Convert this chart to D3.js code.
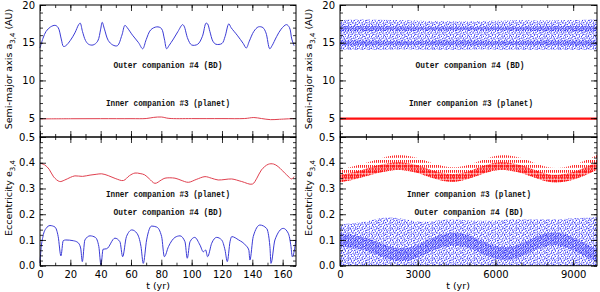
<!DOCTYPE html>
<html>
<head>
<meta charset="utf-8">
<script src="https://cdn.jsdelivr.net/npm/d3@7"></script>
<style>
  body { margin: 0; background: #fff; }
  svg { display: block; }
  .tick text { font-family: "DejaVu Sans", sans-serif; font-size: 10px; fill: #000; }
  .domain { display: none; }
  .tick line { stroke: #000; stroke-width: 0.8; }
  .note { font-family: "Liberation Mono", monospace; font-size: 9.5px; font-weight: bold; fill: #111; }
  .alab { font-family: "DejaVu Sans", sans-serif; font-size: 9.5px; fill: #000; }
</style>
</head>
<body>
<svg id="chart" width="600" height="292"></svg>
<script>
// ---- left panels: short integration (lines) ----
const tShortA = [0, 2, 4, 7, 10, 12, 14, 15.5, 17, 20, 23, 25.5, 26.5, 28, 30, 32, 35, 38, 40, 41, 42.5, 45, 48, 51, 54, 56, 57.5, 61, 65, 67.7, 70, 73, 77, 80, 82, 83.5, 85, 88, 91, 94, 95, 97.5, 100, 104, 107, 109.5, 110.5, 112, 114, 116, 120, 122, 124.5, 126, 130, 134, 136, 138, 141, 144, 147, 149, 151.5, 153, 156, 159, 162.5, 164.5, 166, 167.5];
const aOuterShort = [14.3, 15.6, 16.5, 17.1, 17.3, 17.0, 15.5, 14.5, 14.6, 15.3, 16.3, 17.4, 17.6, 16.5, 15.3, 14.8, 14.7, 15.2, 16.8, 17.7, 16.8, 15.3, 14.7, 14.6, 16.0, 17.3, 17.0, 16.0, 15.0, 14.2, 15.4, 16.7, 17.1, 16.9, 15.5, 14.2, 14.6, 15.5, 16.5, 17.4, 17.2, 15.5, 14.7, 14.8, 15.8, 17.6, 17.5, 16.5, 15.2, 14.8, 14.9, 15.8, 17.5, 17.0, 16.0, 14.9, 14.3, 15.2, 16.5, 17.1, 17.0, 16.3, 14.2, 14.6, 15.8, 16.8, 17.4, 17.0, 15.5, 14.6];

const tShortAin = [0, 20, 40, 60, 70, 75, 80, 85, 100, 120, 135, 141, 146, 152, 158, 167.5];
const aInnerShort = [4.9, 4.92, 4.93, 4.93, 4.95, 5.1, 5.15, 4.97, 4.94, 4.94, 4.95, 5.08, 4.95, 4.8, 4.85, 4.95];

const tShortEin = [0, 3, 6, 9, 13, 16, 20, 23, 28, 33, 37, 40.7, 45, 50, 55, 59, 62.6, 66, 69, 72, 75.8, 80, 82.4, 89, 93, 97.8, 103, 108.8, 113, 117.5, 122, 126.4, 133, 140, 143, 146, 150.5, 154, 157, 162.6, 166, 167.5];
const eInnerShort = [0.398, 0.392, 0.375, 0.345, 0.327, 0.332, 0.343, 0.349, 0.347, 0.352, 0.355, 0.357, 0.35, 0.338, 0.331, 0.35, 0.36, 0.358, 0.353, 0.338, 0.32, 0.333, 0.34, 0.34, 0.332, 0.324, 0.335, 0.346, 0.34, 0.333, 0.335, 0.337, 0.327, 0.317, 0.34, 0.372, 0.394, 0.395, 0.385, 0.353, 0.337, 0.346];

const tShortEout = [0, 0.6, 2, 4, 6.6, 9.9, 12, 13.8, 15.3, 17, 22, 25, 26.8, 27.9, 29.6, 33, 36.5, 38.8, 40.2, 41.6, 44, 49.4, 52.7, 54.5, 57, 60.6, 63.9, 66.6, 68.1, 70.3, 73.6, 77, 80.2, 82, 84.7, 89, 92.3, 95.6, 97.1, 98.9, 102, 105.5, 107.7, 109.2, 110.5, 113.2, 116.5, 119.8, 122, 123.5, 125.3, 126.4, 131, 135.5, 137.7, 138.4, 140.6, 145, 149.4, 151.6, 152.3, 154.9, 160.4, 163.7, 165.5, 166.3, 168.1, 168.7];
const eOuterShort = [0.01, 0.06, 0.115, 0.145, 0.156, 0.15, 0.113, 0.038, 0.097, 0.1, 0.097, 0.09, 0.069, 0.016, 0.1, 0.116, 0.11, 0.074, 0.003, 0.064, 0.066, 0.107, 0.093, 0.035, 0.113, 0.139, 0.126, 0.074, 0.009, 0.1, 0.154, 0.15, 0.113, 0.035, 0.074, 0.11, 0.116, 0.093, 0.029, 0.093, 0.11, 0.08, 0.054, 0.061, 0.035, 0.087, 0.11, 0.1, 0.061, 0.016, 0.093, 0.113, 0.1, 0.08, 0.061, 0.022, 0.113, 0.158, 0.145, 0.074, 0.009, 0.1, 0.145, 0.126, 0.074, 0.035, 0.074, 0.1];

// ---- right panels: long integration (dense point clouds, read as envelopes) ----
const tLong = [0, 1000, 2000, 3000, 4000, 5000, 6000, 7000, 8000, 9000, 9920];
const aOuterLow = [14.1, 14.0, 14.1, 14.1, 14.0, 14.1, 14.1, 14.0, 14.1, 14.0, 14.1];
const aOuterHigh = [18.0, 18.1, 18.0, 17.9, 17.9, 17.8, 17.9, 18.0, 17.9, 18.0, 18.1];
const aOuterBand1Low = [14.6, 14.6, 14.6, 14.7, 14.6, 14.6, 14.6, 14.7, 14.6, 14.6, 14.6];
const aOuterBand1High = [15.3, 15.3, 15.2, 15.2, 15.3, 15.3, 15.2, 15.2, 15.3, 15.3, 15.3];
const aOuterBand2Low = [16.5, 16.5, 16.6, 16.6, 16.6, 16.7, 16.6, 16.6, 16.5, 16.5, 16.5];
const aOuterBand2High = [17.2, 17.2, 17.2, 17.1, 17.1, 17.1, 17.1, 17.1, 17.2, 17.2, 17.2];
const aInnerLow = [4.78, 4.78, 4.78, 4.78, 4.78, 4.78, 4.78, 4.78, 4.78, 4.78, 4.78];
const aInnerHigh = [5.1, 5.1, 5.1, 5.1, 5.1, 5.1, 5.1, 5.1, 5.1, 5.1, 5.1];

const tLongE = [0, 500, 1000, 1500, 2000, 2500, 3000, 3500, 4000, 4500, 5000, 5500, 6000, 6500, 7000, 7500, 8000, 8500, 9000, 9500, 9920];
const eInnerCoreLow = [0.325, 0.333, 0.347, 0.362, 0.372, 0.372, 0.362, 0.342, 0.327, 0.325, 0.337, 0.357, 0.372, 0.372, 0.362, 0.342, 0.324, 0.322, 0.332, 0.352, 0.372];
const eInnerCoreHigh = [0.354, 0.362, 0.377, 0.392, 0.402, 0.402, 0.392, 0.372, 0.357, 0.355, 0.367, 0.387, 0.402, 0.402, 0.392, 0.372, 0.354, 0.352, 0.362, 0.382, 0.402];
const eInnerTop = [0.375, 0.385, 0.4, 0.415, 0.43, 0.43, 0.42, 0.4, 0.385, 0.38, 0.392, 0.41, 0.43, 0.43, 0.42, 0.4, 0.38, 0.378, 0.39, 0.41, 0.43];

const eOuterTop = [0.16, 0.165, 0.17, 0.185, 0.19, 0.18, 0.17, 0.17, 0.18, 0.18, 0.175, 0.175, 0.175, 0.18, 0.18, 0.18, 0.18, 0.18, 0.185, 0.185, 0.19];
const eOuterDenseLow = [0.075, 0.07, 0.06, 0.04, 0.02, 0.015, 0.03, 0.055, 0.075, 0.08, 0.07, 0.045, 0.025, 0.02, 0.035, 0.06, 0.08, 0.08, 0.06, 0.035, 0.015];
const eOuterDenseHigh = [0.125, 0.12, 0.11, 0.09, 0.07, 0.065, 0.08, 0.105, 0.125, 0.13, 0.12, 0.095, 0.075, 0.07, 0.085, 0.11, 0.13, 0.13, 0.11, 0.085, 0.065];

const xTicksShort = [0, 20, 40, 60, 80, 100, 120, 140, 160];
const xTicksLong = [0, 3000, 6000, 9000];
const aTicks = [5, 10, 15, 20];
const eTicks = [0, 0.1, 0.2, 0.3, 0.4, 0.5];

const blue = '#3b3bd6';
const red = '#e0404f';
const blueDot = '#2222f5';
const redDot = '#ff1010';

const svg = d3.select('#chart');
const defs = svg.append('defs');

// dot textures for the point clouds
function dotPattern(id, w, h, pts, color) {
    const p = defs.append('pattern').attr('id', id)
        .attr('patternUnits', 'userSpaceOnUse').attr('width', w).attr('height', h);
    pts.forEach(d => p.append('rect').attr('x', d[0]).attr('y', d[1])
        .attr('width', d[2] || 0.9).attr('height', d[3] || 0.9).attr('fill', color));
}
dotPattern('sparseBlue', 6, 5, [[0, 0], [3, 0.8], [1.5, 2.2], [4.5, 3], [2.5, 4], [5.2, 1.6], [0.6, 3.6]], blueDot);
dotPattern('denseBlue', 2.5, 2.5, [[0, 0], [1.3, 0.8], [0.6, 1.7]], blueDot);
dotPattern('lightBlue', 7, 6, [[0, 0], [3.5, 1.8], [1.8, 4], [5.2, 4.5], [1, 2.3], [5, 0.5]], blueDot);
dotPattern('redSpikes', 2, 5, [[0, 0, 0.9, 2.8]], redDot);
dotPattern('redCore', 1.5, 3, [[0, 0, 1, 2.6]], redDot);

const panels = {
    left: { x0: 40, x1: 296, dom: [0, 168.8], major: xTicksShort, minor: d3.range(0, 169, 10) },
    right: { x0: 340, x1: 597, dom: [0, 9920], major: xTicksLong, minor: d3.range(0, 9921, 1000) }
};
const rows = {
    top: { y0: 5, y1: 137, dom: [2.5, 20], major: aTicks, minor: d3.range(3, 20.1, 1) },
    bottom: { y0: 137, y1: 265.7, dom: [0, 0.5], major: eTicks, minor: d3.range(0, 0.501, 0.02) }
};

const frames = svg.append('g');   // collected so they can be raised over fills

function frame(p, r, showX) {
    const x = d3.scaleLinear().domain(p.dom).range([p.x0, p.x1]);
    const y = d3.scaleLinear().domain(r.dom).range([r.y1, r.y0]);
    const g = frames.append('g');
    const fmt = r.dom[1] < 1 ? d3.format('.1f') : d3.format('d');
    // minor ticks
    g.append('g').attr('transform', `translate(0,${r.y1})`)
        .call(d3.axisBottom(x).tickValues(p.minor).tickSize(-3).tickFormat(''));
    g.append('g').attr('transform', `translate(0,${r.y0})`)
        .call(d3.axisTop(x).tickValues(p.minor).tickSize(-3).tickFormat(''));
    g.append('g').attr('transform', `translate(${p.x0},0)`)
        .call(d3.axisLeft(y).tickValues(r.minor).tickSize(-3).tickFormat(''));
    g.append('g').attr('transform', `translate(${p.x1},0)`)
        .call(d3.axisRight(y).tickValues(r.minor).tickSize(-3).tickFormat(''));
    // major ticks
    g.append('g').attr('transform', `translate(0,${r.y1})`)
        .call(d3.axisBottom(x).tickValues(p.major).tickSize(-6).tickPadding(5)
            .tickFormat(showX ? d3.format('d') : ''));
    g.append('g').attr('transform', `translate(0,${r.y0})`)
        .call(d3.axisTop(x).tickValues(p.major).tickSize(-6).tickFormat(''));
    g.append('g').attr('transform', `translate(${p.x0},0)`)
        .call(d3.axisLeft(y).tickValues(r.major).tickSize(-6).tickPadding(5).tickFormat(fmt));
    g.append('g').attr('transform', `translate(${p.x1},0)`)
        .call(d3.axisRight(y).tickValues(r.major).tickSize(-6).tickFormat(''));
    g.append('rect').attr('x', p.x0).attr('y', r.y0)
        .attr('width', p.x1 - p.x0).attr('height', r.y1 - r.y0)
        .attr('fill', 'none').attr('stroke', '#000').attr('stroke-width', 1);
    return { x, y };
}

function line(s, xs, ys, color, curve) {
    svg.append('path')
        .datum(xs.map((t, i) => [t, ys[i]]))
        .attr('fill', 'none').attr('stroke', color).attr('stroke-width', 1)
        .attr('d', d3.line().x(d => s.x(d[0])).y(d => s.y(d[1]))
            .curve(curve || d3.curveCatmullRom.alpha(0.5)));
}

function band(s, xs, lo, hi, fill) {
    svg.append('path')
        .datum(xs.map((t, i) => [t, lo[i], hi[i]]))
        .attr('fill', fill)
        .attr('d', d3.area().x(d => s.x(d[0])).y0(d => s.y(d[1])).y1(d => s.y(d[2]))
            .curve(d3.curveBasis));
}

// top-left
const sTL = frame(panels.left, rows.top, false);
line(sTL, tShortA, aOuterShort, blue);
line(sTL, tShortAin, aInnerShort, red);

// bottom-left
const sBL = frame(panels.left, rows.bottom, true);
line(sBL, tShortEin, eInnerShort, red);
line(sBL, tShortEout, eOuterShort, blue, d3.curveMonotoneX);

// top-right
const sTR = frame(panels.right, rows.top, false);
band(sTR, tLong, aOuterLow, aOuterHigh, 'url(#sparseBlue)');
band(sTR, tLong, aOuterLow, aOuterHigh, 'url(#lightBlue)');
band(sTR, tLong, aOuterBand1Low, aOuterBand1High, 'url(#denseBlue)');
band(sTR, tLong, aOuterBand2Low, aOuterBand2High, 'url(#denseBlue)');
band(sTR, tLong, aInnerLow, aInnerHigh, redDot);

// bottom-right
const sBR = frame(panels.right, rows.bottom, true);
const zeros = tLongE.map(() => 0);
band(sBR, tLongE, zeros, eOuterTop, 'url(#lightBlue)');
band(sBR, tLongE, zeros, eOuterTop, 'url(#sparseBlue)');
band(sBR, tLongE, eOuterDenseLow, eOuterDenseHigh, 'url(#denseBlue)');
band(sBR, tLongE, eInnerCoreLow, eInnerTop, 'url(#redSpikes)');
band(sBR, tLongE, eInnerCoreLow, eInnerCoreHigh, 'url(#redCore)');

frames.raise();

// annotations
const notes = [
    [168, 68, 'Outer companion #4 (BD)', 109],
    [168, 106, 'Inner companion #3 (planet)', 124],
    [470, 68, 'Outer companion #4 (BD)', 109],
    [471, 106, 'Inner companion #3 (planet)', 124],
    [168, 197, 'Inner companion #3 (planet)', 124],
    [168, 215, 'Outer companion #4 (BD)', 109],
    [469, 197, 'Inner companion #3 (planet)', 124],
    [469, 215, 'Outer companion #4 (BD)', 109]
];
notes.forEach(n => svg.append('text').attr('class', 'note')
    .attr('x', n[0]).attr('y', n[1]).attr('text-anchor', 'middle')
    .attr('textLength', n[3]).attr('lengthAdjust', 'spacingAndGlyphs').text(n[2]));

// axis titles
function ylab(x, y, main, sub, tail) {
    const t = svg.append('text').attr('class', 'alab')
        .attr('transform', `translate(${x},${y}) rotate(-90)`).attr('text-anchor', 'middle');
    t.append('tspan').text(main);
    t.append('tspan').attr('dy', 3).attr('font-size', 7).text(sub);
    if (tail) t.append('tspan').attr('dy', -3).text(tail);
}
ylab(12, 69, 'Semi-major axis a', '3,4', ' (AU)');
ylab(312, 69, 'Semi-major axis a', '3,4', ' (AU)');
ylab(12, 198, 'Eccentricity e', '3,4');
ylab(312, 198, 'Eccentricity e', '3,4');
svg.append('text').attr('class', 'alab').attr('x', 158).attr('y', 289).attr('text-anchor', 'middle').text('t (yr)');
svg.append('text').attr('class', 'alab').attr('x', 458).attr('y', 289).attr('text-anchor', 'middle').text('t (yr)');
</script>
</body>
</html>
